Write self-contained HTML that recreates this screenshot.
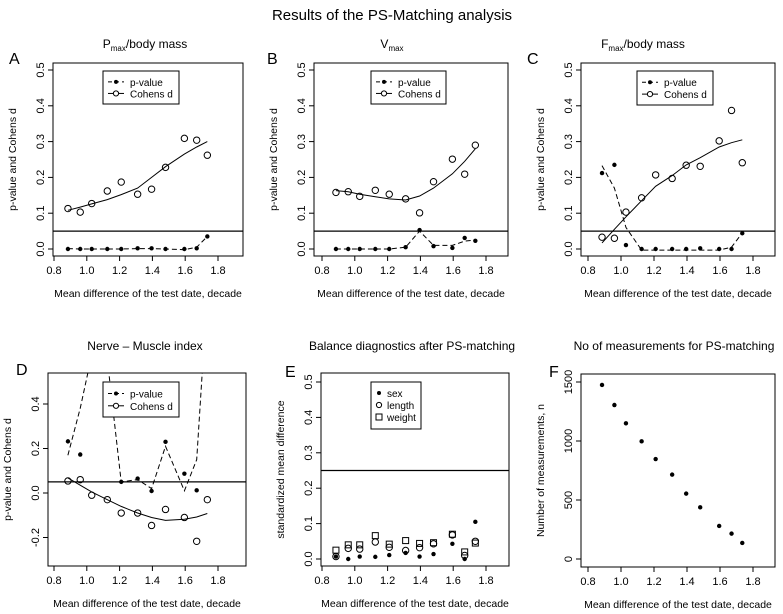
<!DOCTYPE html>
<html><head><meta charset="utf-8">
<style>
html,body{margin:0;padding:0;background:#fff;}
svg{display:block;font-family:"Liberation Sans",Arial,sans-serif;}
</style></head>
<body>
<svg id="chart" width="783" height="614" viewBox="0 0 783 614">
<text x="392" y="20" font-size="15" text-anchor="middle">Results of the PS-Matching analysis</text>
<text x="145" y="48" font-size="12" text-anchor="middle">P<tspan font-size="8" dy="3">max</tspan><tspan dy="-3">/body mass</tspan></text>
<text x="392" y="48" font-size="12" text-anchor="middle">V<tspan font-size="8" dy="3">max</tspan></text>
<text x="643" y="48" font-size="12" text-anchor="middle">F<tspan font-size="8" dy="3">max</tspan><tspan dy="-3">/body mass</tspan></text>
<text x="145" y="350" font-size="12" text-anchor="middle">Nerve – Muscle index</text>
<text x="412" y="350" font-size="12" text-anchor="middle">Balance diagnostics after PS-matching</text>
<text x="674" y="350" font-size="12" text-anchor="middle">No of measurements for PS-matching</text>
<text x="9" y="64" font-size="16">A</text>
<text x="267" y="64" font-size="16">B</text>
<text x="527" y="64" font-size="16">C</text>
<text x="16" y="375" font-size="16">D</text>
<text x="285" y="377" font-size="16">E</text>
<text x="549" y="377" font-size="16">F</text>
</svg>
<script>
const xVals = [0.885,0.96,1.03,1.125,1.21,1.31,1.395,1.48,1.595,1.67,1.735];
const xTicks = [0.8,1.0,1.2,1.4,1.6,1.8];
const xTickLabels = ["0.8","1.0","1.2","1.4","1.6","1.8"];
// Panel A
const aCohen = [0.113,0.103,0.127,0.162,0.187,0.153,0.167,0.228,0.309,0.304,0.262];
const aCohenFit = [0.108,0.117,0.126,0.138,0.152,0.170,0.200,0.230,0.265,0.285,0.300];
const aP = [0,0,0,0,0,0.002,0.002,0,0,0.002,0.035];
const aPFit = [0.001,0,0,0,0,0.001,0.001,0,-0.002,0.005,0.035];
// Panel B
const bCohen = [0.158,0.160,0.147,0.164,0.153,0.140,0.101,0.188,0.251,0.209,0.290];
const bCohenFit = [0.163,0.160,0.153,0.146,0.140,0.137,0.148,0.170,0.210,0.245,0.280];
const bP = [0,0,0,0,0,0.005,0.053,0.008,0.003,0.031,0.023];
const bPFit = [0,0,0,0,0,0.005,0.050,0.010,0.010,0.022,0.025];
// Panel C
const cCohen = [0.033,0.030,0.103,0.143,0.207,0.197,0.234,0.231,0.302,0.387,0.241];
const cCohenFit = [0.017,0.055,0.090,0.135,0.175,0.205,0.235,0.255,0.285,0.297,0.305];
const cP = [0.212,0.235,0.011,0,0,0,0,0.002,0,0,0.044];
const cPFit = [0.233,0.170,0.060,-0.003,-0.003,-0.003,-0.003,-0.003,-0.003,0.005,0.045];
// Panel D
const dCohen = [0.054,0.060,-0.010,-0.030,-0.090,-0.090,-0.146,-0.074,-0.110,-0.217,-0.030];
const dCohenFit = [0.068,0.035,0.005,-0.030,-0.060,-0.090,-0.110,-0.123,-0.118,-0.108,-0.092];
const dP = [0.232,0.173,0.70,0.60,0.050,0.065,0.009,0.230,0.087,0.012,0.90];
const dPFit = [0.17,0.38,0.62,0.60,0.05,0.06,0.02,0.21,0.01,0.15,0.90];
// Panel E
const eSex = [0.007,0,0.007,0.006,0.011,0.017,0.007,0.014,0.043,0,0.105];
const eLength = [0.007,0.030,0.028,0.048,0.033,0.024,0.032,0.043,0.068,0.010,0.050];
const eWeight = [0.025,0.040,0.040,0.066,0.042,0.052,0.044,0.046,0.070,0.020,0.045];
// Panel F
const fCounts = [1475,1305,1150,997,847,715,554,438,280,215,136];
const abcYTicks = [0,0.1,0.2,0.3,0.4,0.5];
const abcYLabels = ["0.0","0.1","0.2","0.3","0.4","0.5"];
const dYTicks = [-0.2,0,0.2,0.4];
const dYLabels = ["-0.2","0.0","0.2","0.4"];
const fYTicks = [0,500,1000,1500];
const fYLabels = ["0","500","1000","1500"];

const NS = "http://www.w3.org/2000/svg";
const svg = document.getElementById('chart');
function mk(tag, attrs, parent){
  const e = document.createElementNS(NS, tag);
  for (const k in attrs) e.setAttribute(k, attrs[k]);
  (parent||svg).appendChild(e);
  return e;
}
function scale(v0,p0,v1,p1){ return v => p0 + (v - v0) * (p1 - p0) / (v1 - v0); }

function panel(id, box, xs, ys, yTicks, yLabels, yTitle){
  const [l,t,r,b] = box;
  const g = mk('g', {});
  
  
  const cp = mk('clipPath', {id:'clip-'+id}, g);
  mk('rect', {x:l, y:t, width:r-l, height:b-t}, cp);
  const frame = mk('rect', {x:l, y:t, width:r-l, height:b-t, fill:'none', stroke:'#000', 'stroke-width':1}, g);
  
  
  const xa = mk('g', {}, g);
  
  
  mk('line', {x1:xs(xTicks[0]), x2:xs(xTicks[xTicks.length-1]), y1:b, y2:b, stroke:'#000'}, xa);
  xTicks.forEach((v,i) => {
    mk('line', {x1:xs(v), x2:xs(v), y1:b, y2:b+5, stroke:'#000'}, xa);
    const tx = mk('text', {x:xs(v), y:b+18, 'font-size':11, 'text-anchor':'middle'}, xa);
    tx.textContent = xTickLabels[i];
  });
  const xt = mk('text', {x:(l+r)/2, y:b+41, 'font-size':10.5, 'text-anchor':'middle'}, g);
  xt.textContent = 'Mean difference of the test date, decade';
  
  
  const ya = mk('g', {}, g);
  
  
  mk('line', {x1:l, x2:l, y1:ys(yTicks[0]), y2:ys(yTicks[yTicks.length-1]), stroke:'#000'}, ya);
  yTicks.forEach((v,i) => {
    mk('line', {x1:l-5, x2:l, y1:ys(v), y2:ys(v), stroke:'#000'}, ya);
    const tx = mk('text', {x:l-9, y:ys(v), 'font-size':11, 'text-anchor':'middle', transform:`rotate(-90 ${l-9} ${ys(v)})`}, ya);
    tx.textContent = yLabels[i];
  });
  const ytx = l - 37, yty = (t+b)/2;
  const yt = mk('text', {x:ytx, y:yty, 'font-size':10.5, 'text-anchor':'middle', transform:`rotate(-90 ${ytx} ${yty})`}, g);
  yt.textContent = yTitle;
  
  
  return g;
}
function hline(g, id, box, ys, v){
  const ln = mk('line', {x1:box[0], x2:box[2], y1:ys(v), y2:ys(v), stroke:'#000', 'stroke-width':1.2}, g);
  
  
}
function poly(g, id, name, xs, ys, vals, dashed){
  const pts = xVals.map((x,i) => xs(x).toFixed(1) + ',' + ys(vals[i]).toFixed(1)).join(' ');
  const pl = mk('polyline', {points:pts, fill:'none', stroke:'#000', 'stroke-width':1, 'clip-path':`url(#clip-${id})`}, g);
  if (dashed) pl.setAttribute('stroke-dasharray', '5,3');
  
  
}
function dots(g, id, name, xs, ys, vals, kind){
  const grp = mk('g', {'clip-path':`url(#clip-${id})`}, g);
  
  
  xVals.forEach((x,i) => {
    const cx = xs(x), cy = ys(vals[i]);
    let m;
    if (kind === 'fill') m = mk('circle', {cx, cy, r:2.2, fill:'#000'}, grp);
    else if (kind === 'open') m = mk('circle', {cx, cy, r:3.2, fill:'none', stroke:'#000', 'stroke-width':1}, grp);
    else m = mk('rect', {x:cx-3, y:cy-3, width:6, height:6, fill:'none', stroke:'#000', 'stroke-width':1}, grp);
    
    
  });
}
function legendPC(g, id, x, y, w, h){
  const lg = mk('g', {}, g);
  
  
  mk('rect', {x, y, width:w, height:h, fill:'#fff', stroke:'#000'}, lg);
  const y1 = y + h*0.33, y2 = y + h*0.68;
  mk('line', {x1:x+5, x2:x+21, y1:y1, y2:y1, stroke:'#000', 'stroke-dasharray':'4,3'}, lg);
  mk('circle', {cx:x+13, cy:y1, r:2, fill:'#000'}, lg);
  mk('line', {x1:x+5, x2:x+21, y1:y2, y2:y2, stroke:'#000'}, lg);
  mk('circle', {cx:x+13, cy:y2, r:2.6, fill:'#fff', stroke:'#000'}, lg);
  const t1 = mk('text', {x:x+27, y:y1+4, 'font-size':10}, lg); t1.textContent = 'p-value';
  
  
  const t2 = mk('text', {x:x+27, y:y2+4, 'font-size':10}, lg); t2.textContent = 'Cohens d';
  
  
}

// A
(function(){
  const box=[53,63,243,256], xs=scale(0.8,54,1.8,218), ys=scale(0,249,0.5,70);
  const g=panel('a',box,xs,ys,abcYTicks,abcYLabels,'p-value and Cohens d');
  hline(g,'a',box,ys,0.05);
  poly(g,'a','cohens-d-fit',xs,ys,aCohenFit,false);
  poly(g,'a','p-value-fit',xs,ys,aPFit,true);
  dots(g,'a','cohens-d',xs,ys,aCohen,'open');
  dots(g,'a','p-value',xs,ys,aP,'fill');
  legendPC(g,'a',103,71,76,33);
})();
// B
(function(){
  const box=[314,63,508,256], xs=scale(0.8,322,1.8,486), ys=scale(0,249,0.5,70);
  const g=panel('b',box,xs,ys,abcYTicks,abcYLabels,'p-value and Cohens d');
  hline(g,'b',box,ys,0.05);
  poly(g,'b','cohens-d-fit',xs,ys,bCohenFit,false);
  poly(g,'b','p-value-fit',xs,ys,bPFit,true);
  dots(g,'b','cohens-d',xs,ys,bCohen,'open');
  dots(g,'b','p-value',xs,ys,bP,'fill');
  legendPC(g,'b',371,71,75,33);
})();
// C
(function(){
  const box=[581,63,775,256], xs=scale(0.8,588,1.8,753), ys=scale(0,249,0.5,70);
  const g=panel('c',box,xs,ys,abcYTicks,abcYLabels,'p-value and Cohens d');
  hline(g,'c',box,ys,0.05);
  poly(g,'c','cohens-d-fit',xs,ys,cCohenFit,false);
  poly(g,'c','p-value-fit',xs,ys,cPFit,true);
  dots(g,'c','cohens-d',xs,ys,cCohen,'open');
  dots(g,'c','p-value',xs,ys,cP,'fill');
  legendPC(g,'c',637,71,76,34);
})();
// D
(function(){
  const box=[48,373,246,566], xs=scale(0.8,54,1.8,218), ys=scale(0,493,0.4,404);
  const g=panel('d',box,xs,ys,dYTicks,dYLabels,'p-value and Cohens d');
  hline(g,'d',box,ys,0.05);
  poly(g,'d','cohens-d-fit',xs,ys,dCohenFit,false);
  poly(g,'d','p-value-fit',xs,ys,dPFit,true);
  dots(g,'d','cohens-d',xs,ys,dCohen,'open');
  dots(g,'d','p-value',xs,ys,dP,'fill');
  legendPC(g,'d',103,382,76,35);
})();
// E
(function(){
  const box=[321,373,509,566], xs=scale(0.8,322,1.8,486), ys=scale(0,559,0.5,382);
  const g=panel('e',box,xs,ys,abcYTicks,abcYLabels,'standardized mean difference');
  hline(g,'e',box,ys,0.25);
  dots(g,'e','weight',xs,ys,eWeight,'square');
  dots(g,'e','length',xs,ys,eLength,'open');
  dots(g,'e','sex',xs,ys,eSex,'fill');
  const lg = mk('g', {}, g);
  
  
  mk('rect', {x:371, y:382, width:50, height:47, fill:'#fff', stroke:'#000'}, lg);
  mk('circle', {cx:379, cy:393, r:2, fill:'#000'}, lg);
  mk('circle', {cx:379, cy:405, r:2.6, fill:'none', stroke:'#000'}, lg);
  mk('rect', {x:376, y:414, width:6, height:6, fill:'none', stroke:'#000'}, lg);
  [['sex',397],['length',409],['weight',421]].forEach(([s,y]) => {
    const t = mk('text', {x:387, y:y, 'font-size':10}, lg); t.textContent = s;
    
    
  });
})();
// F
(function(){
  const box=[581,374,775,567], xs=scale(0.8,588,1.8,753), ys=scale(0,559,1500,382);
  const g=panel('f',box,xs,ys,fYTicks,fYLabels,'Number of measurements, n');
  dots(g,'f','measurement-count',xs,ys,fCounts,'fill');
})();
</script>
</body></html>
